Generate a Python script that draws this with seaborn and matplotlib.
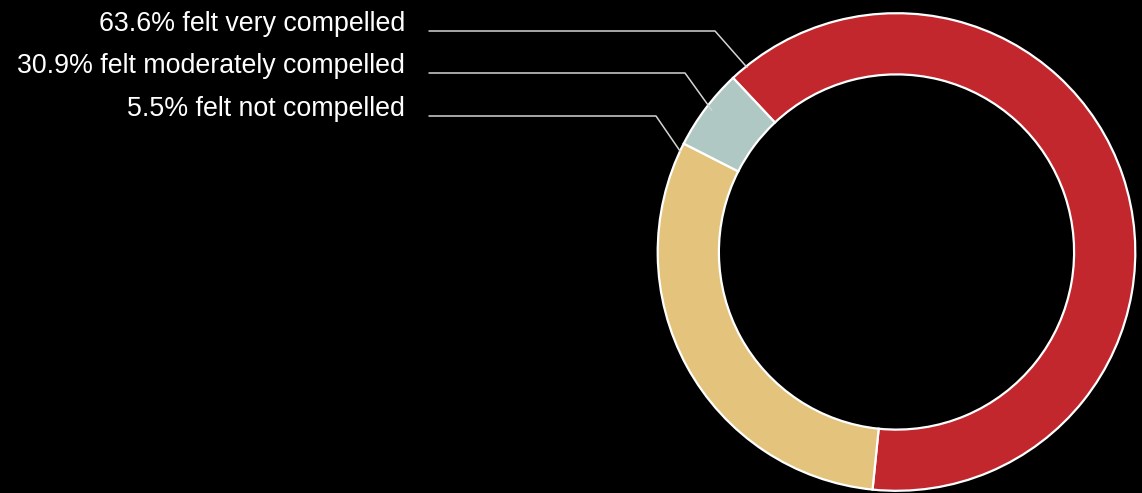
import numpy as np
import seaborn as sns
import matplotlib
matplotlib.use('Agg')
import matplotlib.pyplot as plt
from matplotlib.lines import Line2D

sns.set_theme(style='dark')
plt.rcParams['font.family'] = ['Liberation Sans', 'DejaVu Sans']

# data
labels = ['felt very compelled', 'felt moderately compelled', 'felt not compelled']
shares = [63.6, 30.9, 5.5]
colors = ['#c1272d', '#e4c47c', '#afc8c3']

W, H = 1142, 493
fig = plt.figure(figsize=(W / 100, H / 100), dpi=100, facecolor='black')

# donut centre (px from top-left) and radius in px
cx, cy, R = 896.5, 252, 240
ax = fig.add_axes([(cx - R) / W, (H - cy - R) / H, 2 * R / W, 2 * R / H])
ax.set_facecolor('black')
ax.pie(shares, colors=colors, startangle=133.2, counterclock=False,
       radius=0.995,
       wedgeprops=dict(width=0.255, edgecolor='white', linewidth=1.6))
ax.set_xlim(-1, 1)
ax.set_ylim(-1, 1)
ax.axis('off')

# label rows: text baseline y, elbow x, anchor angle on ring
rows_y = [31, 73, 116]
elbow_x = [715, 685, 656]
anchor_deg = [129.0, 142.5, 155.0]
anchor_r = [0.99, 0.97, 0.995]

to_fig = fig.transFigure.inverted()
for lab, v, y, ex, a, r in zip(labels, shares, rows_y, elbow_x, anchor_deg, anchor_r):
    fig.text(405 / W, 1 - y / H, f'{v}% {lab}', ha='right', va='baseline',
             fontsize=19.3, color='white')
    t = np.deg2rad(a)
    axp = to_fig.transform(ax.transData.transform((r * np.cos(t), r * np.sin(t))))
    xs = [429 / W, ex / W, axp[0]]
    ys = [1 - y / H, 1 - y / H, axp[1]]
    fig.add_artist(Line2D(xs, ys, transform=fig.transFigure, color='#d4d4d4', lw=1.1))

fig.savefig('out.png', dpi=100, facecolor='black')
